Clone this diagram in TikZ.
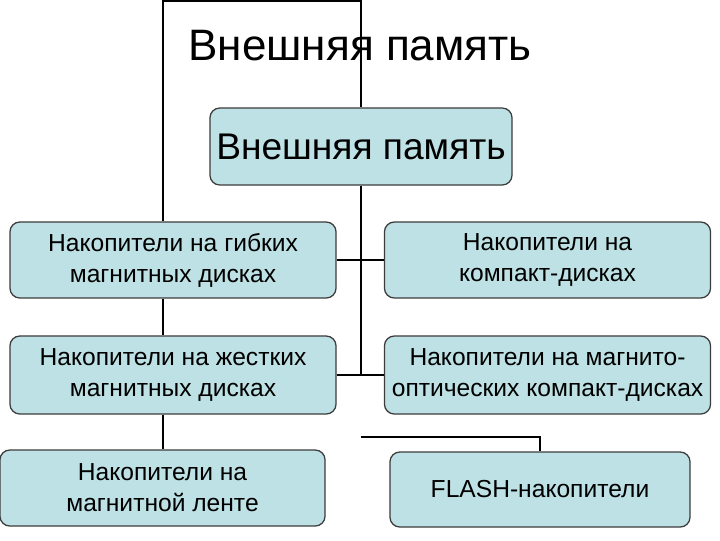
\documentclass[tikz,border=0pt]{standalone}
\usepackage{fontspec}
\setmainfont{Liberation Sans}
\definecolor{boxfill}{RGB}{189,225,228}
\definecolor{boxline}{RGB}{60,60,60}
\tikzset{
  membox/.style={draw=boxline, line width=0.9pt, fill=boxfill, rounded corners=7pt,
    align=center, inner sep=2pt, font=\fontsize{17.5}{22}\selectfont},
  link/.style={line width=1.6pt, black}
}
\begin{document}
\begin{tikzpicture}[x=0.025cm, y=-0.025cm]
			\useasboundingbox (0,0) rectangle (720,540);
			\node (title) at (360,46) {\fontsize{31.3}{36}\selectfont Внешняя память};
			\node[membox, minimum width=7.55cm, minimum height=1.925cm, font=\fontsize{26.4}{30}\selectfont] (main) at (361,146.5) {Внешняя память};
			\node[membox, minimum width=8.15cm, minimum height=1.9cm] (floppy) at (173,260) {Накопители на гибких\\магнитных дисках};
			\node[membox, minimum width=8.15cm, minimum height=1.9cm] (cd) at (547.5,260) {Накопители на\\компакт-дисках};
			\node[membox, minimum width=8.15cm, minimum height=1.95cm] (hdd) at (173,375) {Накопители на жестких\\магнитных дисках};
			\node[membox, minimum width=8.15cm, minimum height=1.95cm] (mo) at (547.5,375) {Накопители на магнито-\\оптических компакт-дисках};
			\node[membox, minimum width=8.125cm, minimum height=1.9cm] (tape) at (162.5,488) {Накопители на\\магнитной ленте};
			\node[membox, minimum width=7.5cm, minimum height=1.875cm] (flash) at (540,489.5) {FLASH-накопители};
			\coordinate (lx) at (163,1);
			\coordinate (fl) at (361,437);
			% frame round the title
			\draw[link] (lx |- floppy.north) -- (lx) -- (lx -| main.north) -- (main.north);
			% tree
			\draw[link] (main.south) -- (main.south |- mo.west);
			\draw[link] (floppy.east) -- (cd.west);
			\draw[link] (hdd.east) -- (mo.west);
			\draw[link] (lx |- floppy.south) -- (lx |- hdd.north);
			\draw[link] (lx |- hdd.south) -- (lx |- tape.north);
			\draw[link] (fl) -- (fl -| flash.north) -- (flash.north);
		\end{tikzpicture}
\end{document}
